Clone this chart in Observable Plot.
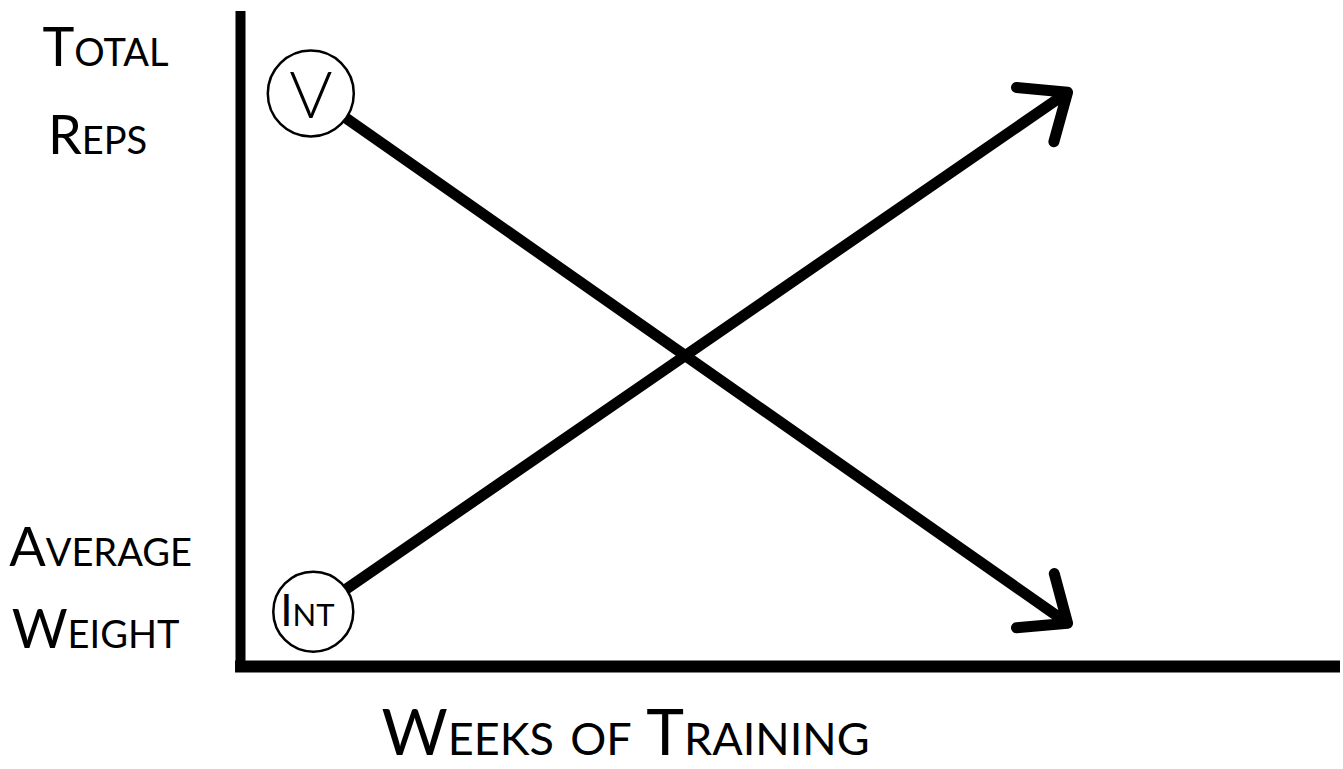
<!DOCTYPE html>
<html><head><meta charset="utf-8">
<script src="https://cdn.jsdelivr.net/npm/d3@7"></script>
<script src="https://cdn.jsdelivr.net/npm/@observablehq/plot@0.6"></script>
<style>html,body{margin:0;padding:0;background:#fff;overflow:hidden}</style>
</head><body><div id="chart"></div>
<script>
// Conceptual chart: volume (total reps) falls, intensity (average weight) rises over the weeks
const series = ["Volume", "Intensity"];
const seriesMarks = ["V", "Int"];
const startWeek = [0.85, 0.88];
const endWeek = [10, 10];
const startValue = [99.3, 9.5];
const endValue = [7.5, 99.5];
const xMax = 13.3;
const yMax = 113.5;
const xLabel = "Weeks of Training";
const yLabelTop = ["Total", "Reps"];
const yLabelBottom = ["Average", "Weight"];

const rows = series.map((s, i) => ({
  series: s, mark: seriesMarks[i],
  x1: startWeek[i], y1: startValue[i], x2: endWeek[i], y2: endValue[i]
}));
const volume = rows.filter(d => d.series === "Volume");
const intensity = rows.filter(d => d.series === "Intensity");

const font = "Lato, 'Open Sans', sans-serif";

const chart = Plot.plot({
  width: 1343,
  height: 769,
  marginLeft: 240,
  marginRight: 3,
  marginTop: 11,
  marginBottom: 103,
  style: {background: "#fff", fontFamily: font},
  x: {domain: [0, xMax], axis: null},
  y: {domain: [0, yMax], axis: null},
  marks: [
    Plot.ruleX([0], {y1: 0, y2: yMax, stroke: "#000", strokeWidth: 10}),
    Plot.ruleY([0], {x1: -0.06, x2: xMax, stroke: "#000", strokeWidth: 12}),
    Plot.arrow(rows, {
      x1: "x1", y1: "y1", x2: "x2", y2: "y2",
      stroke: "#000", strokeWidth: 11, headLength: 7, headAngle: 80,
      strokeLinecap: "round", strokeLinejoin: "round"
    }),
    Plot.dot(volume, {x: "x1", y: "y1", r: 43, fill: "#fff", stroke: "#000", strokeWidth: 2.5}),
    Plot.dot(intensity, {x: "x1", y: "y1", r: 40, fill: "#fff", stroke: "#000", strokeWidth: 2.5}),
    Plot.text(volume, {x: "x1", y: "y1", text: "mark",
      fontSize: 66, fontWeight: 300, lineAnchor: "middle", fill: "#000", dy: 3}),
    Plot.text(intensity, {x: "x1", y: "y1", text: "mark",
      fontSize: 44, fontVariant: "small-caps", lineAnchor: "middle", fill: "#000", dx: -6}),
    Plot.text([yLabelTop[0]], {frameAnchor: "top-left", text: d => d, dx: -135, dy: 54,
      textAnchor: "middle", lineAnchor: "bottom", fontSize: 54, fontVariant: "small-caps", fill: "#000"}),
    Plot.text([yLabelTop[1]], {frameAnchor: "top-left", text: d => d, dx: -143, dy: 142,
      textAnchor: "middle", lineAnchor: "bottom", fontSize: 54, fontVariant: "small-caps", fill: "#000"}),
    Plot.text([yLabelBottom[0]], {frameAnchor: "bottom-left", text: d => d, dx: -140, dy: -101,
      textAnchor: "middle", lineAnchor: "bottom", fontSize: 54, fontVariant: "small-caps", fill: "#000"}),
    Plot.text([yLabelBottom[1]], {frameAnchor: "bottom-left", text: d => d, dx: -145, dy: -19,
      textAnchor: "middle", lineAnchor: "bottom", fontSize: 54, fontVariant: "small-caps", fill: "#000"}),
    Plot.text([xLabel], {frameAnchor: "bottom", text: d => d, dx: -165, dy: 88,
      textAnchor: "middle", lineAnchor: "bottom", fontSize: 64, fontVariant: "small-caps", fill: "#000"})
  ]
});
document.getElementById("chart").appendChild(chart);
</script>
</body></html>
